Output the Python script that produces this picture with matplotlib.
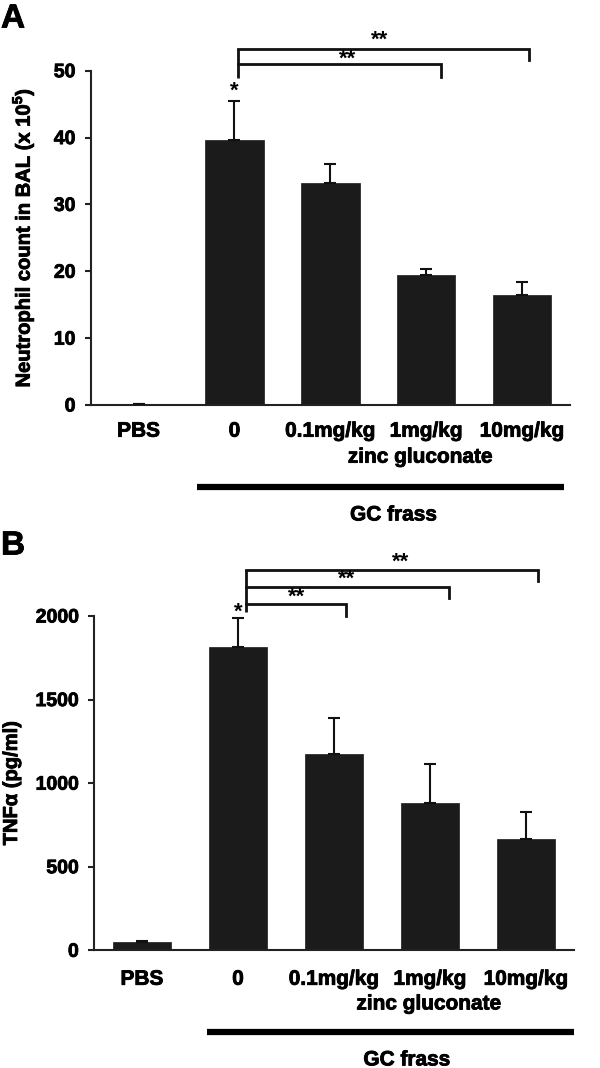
import matplotlib
matplotlib.use("Agg")
import matplotlib.pyplot as plt
import matplotlib.patheffects as pe
import numpy as np

plt.rcParams['font.family'] = ['Liberation Sans', 'DejaVu Sans']
plt.rcParams['font.weight'] = 'bold'
plt.rcParams['mathtext.fontset'] = 'custom'
plt.rcParams['mathtext.rm'] = 'Liberation Sans:bold'
plt.rcParams['mathtext.bf'] = 'Liberation Sans:bold'

# ---- data ----
categories = ["PBS", "0", "0.1mg/kg", "1mg/kg", "10mg/kg"]
neutrophil_mean = [0.1, 39.6, 33.2, 19.4, 16.4]
neutrophil_err = [0.0, 5.8, 2.9, 0.9, 2.0]
tnf_mean = [47, 1812, 1175, 879, 664]
tnf_err = [11, 174, 217, 238, 166]

# significance brackets: (x_left, x_right, y_bar, y_leg_right, label, label_x, label_y)
sig_a = [(1.035, 4.07, 53.2, 51.6, "**", 2.51, 54.6),
         (1.035, 3.15, 50.95, 49.1, "**", 2.18, 51.7)]
sig_a_leftbottom = 48.85
star_a = (1.0, 47.0)

sig_b = [(1.08, 4.12, 2273, 2212, "**", 2.69, 2323),
         (1.08, 3.20, 2175, 2110, "**", 2.13, 2220),
         (1.08, 2.13, 2072, 2000, "**", 1.61, 2110)]
sig_b_leftbottom = 2026
star_b = (1.0, 2020)

W, H = 600, 1068
fig = plt.figure(figsize=(W / 100, H / 100), dpi=100)

bar_color = "#1b1b1b"
x = np.arange(len(categories))
heavy = [pe.withStroke(linewidth=0.6, foreground='black')]


def style_axes(ax, yticks, ylim):
    ax.set_xlim(-0.5, 4.5)
    ax.set_ylim(*ylim)
    ax.set_yticks(yticks)
    ax.set_yticklabels([str(t) for t in yticks], fontsize=14, fontweight='bold')
    ax.set_xticks(x)
    ax.spines['top'].set_visible(False)
    ax.spines['right'].set_visible(False)
    for s in ['left', 'bottom']:
        ax.spines[s].set_linewidth(1.5)
        ax.spines[s].set_color('#222222')
    ax.tick_params(axis='y', direction='out', length=4, width=1.5, color='#222222', pad=7)
    ax.tick_params(axis='x', length=0)


def draw_panel(ax, means, errs, sigs, left_bottom, star, lab_pad, zinc_xy, line_y, line_x, frass_xy):
    ax.bar(x, means, width=0.61, color=bar_color, edgecolor=bar_color, linewidth=0.5, zorder=2)
    ax.errorbar(x, means, yerr=[np.zeros(len(errs)), errs], fmt='none', ecolor='#111111',
                elinewidth=1.5, capsize=4.5, capthick=1.5, zorder=3)
    ax.set_xticklabels(categories, fontsize=15, fontweight='bold')
    ax.tick_params(axis='x', pad=lab_pad)
    xl = sigs[0][0]
    top = max(s[2] for s in sigs)
    ax.plot([xl, xl], [left_bottom, top], color='#111111', lw=2, clip_on=False,
            solid_capstyle='butt')
    for (x0, x1, yb, yr, lab, lx, ly) in sigs:
        ax.plot([x0, x1, x1], [yb, yb, yr], color='#111111', lw=2, clip_on=False,
                solid_joinstyle='miter')
        ax.text(lx, ly, lab, ha='center', va='center', fontsize=16, fontweight='bold',
                clip_on=False)
    ax.text(star[0], star[1], "*", ha='center', va='center', fontsize=16, fontweight='bold',
            clip_on=False)
    ax.text(zinc_xy[0], zinc_xy[1], "zinc gluconate", ha='center', va='center', fontsize=15,
            fontweight='bold', clip_on=False, path_effects=heavy)
    ax.plot(line_x, [line_y, line_y], color='black', lw=4.5, clip_on=False, solid_capstyle='butt')
    ax.text(frass_xy[0], frass_xy[1], "GC frass", ha='center', va='center', fontsize=15,
            fontweight='bold', clip_on=False, path_effects=heavy)
    for t in ax.get_xticklabels() + ax.get_yticklabels():
        t.set_path_effects(heavy)


# Panel A
axA = fig.add_axes([90.7 / W, 1 - 405 / H, (570 - 90.7) / W, (405 - 70.7) / H])
style_axes(axA, [0, 10, 20, 30, 40, 50], (0, 50))
draw_panel(axA, neutrophil_mean, neutrophil_err, sig_a, sig_a_leftbottom, star_a, 12,
           (2.94, -7.8), -12.2, [0.61, 4.44], (2.66, -16.45))
axA.set_ylabel(r"Neutrophil count in BAL (x 10$^{5}$)", fontsize=14.5, fontweight='bold',
               path_effects=heavy)
axA.yaxis.set_label_coords((36 - 90.7) / (570 - 90.7), 0.5)

# Panel B
axB = fig.add_axes([94 / W, 1 - 950.3 / H, (574 - 94) / W, (950.3 - 616) / H])
style_axes(axB, [0, 500, 1000, 1500, 2000], (0, 2000))
draw_panel(axB, tnf_mean, tnf_err, sig_b, sig_b_leftbottom, star_b, 14,
           (2.99, -321), -490.6, [0.68, 4.5], (2.76, -656))
axB.set_ylabel("TNFα (pg/ml)", fontsize=14.5, fontweight='bold', path_effects=heavy)
axB.yaxis.set_label_coords((21 - 94) / (574 - 94), 0.5)

fig.text(1 / W, 1 - 19 / H, "A", fontsize=24, fontweight='bold', ha='left', va='center',
         path_effects=heavy)
fig.text(1 / W, 1 - 546 / H, "B", fontsize=24, fontweight='bold', ha='left', va='center',
         path_effects=heavy)

fig.savefig("out.png", dpi=100, facecolor='white')
